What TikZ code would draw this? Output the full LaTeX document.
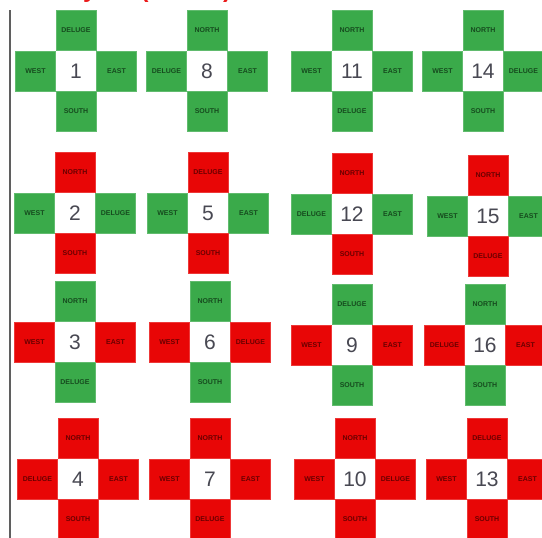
\documentclass[tikz,border=0pt]{standalone}
\usepackage{fontspec}
\setmainfont{Liberation Sans}
\definecolor{gfill}{RGB}{58,170,74}
\definecolor{gtext}{RGB}{22,75,30}
\definecolor{rfill}{RGB}{232,6,6}
\definecolor{rtext}{RGB}{105,0,0}
\definecolor{numcol}{RGB}{72,72,82}
\definecolor{linecol}{RGB}{95,95,95}
\definecolor{titlecol}{RGB}{235,25,25}
\begin{document}
\begin{tikzpicture}[x=1pt,y=-1pt,
  arm/.style={fill=#1fill, draw=#1fill!80!white, line width=0.6pt, text=#1text,
    minimum size=40pt, inner sep=0pt, font=\bfseries\fontsize{7}{7}\selectfont},
  numbox/.style={fill=white, minimum size=40pt, inner sep=0pt, text=numcol,
    font=\fontsize{21}{21}\selectfont},
  rule/.style={draw=linecol, line width=1.4pt},
  title/.style={anchor=base west, inner sep=0pt, text=titlecol,
    font=\bfseries\fontsize{24}{24}\selectfont}]
\path[use as bounding box] (0,0) rectangle (542,538);
\clip (0,0) rectangle (542,538);
\fill[white] (0,0) rectangle (542,538);
\node[title] (ttl) at (55,-2.5) {Layout (ROOM)};
\coordinate (ltop) at (10,10);
\coordinate (lbot) at (10,540);
\draw[rule] (ltop) -- (lbot);
\foreach \cx/\cy/\cn/\tA/\tB/\lA/\lB/\rA/\rB/\bA/\bB in {
  76/71/1/g/DELUGE/g/WEST/g/EAST/g/SOUTH,
  207/71/8/g/NORTH/g/DELUGE/g/EAST/g/SOUTH,
  352/71/11/g/NORTH/g/WEST/g/EAST/g/DELUGE,
  483/71/14/g/NORTH/g/WEST/g/DELUGE/g/SOUTH,
  75/213/2/r/NORTH/g/WEST/g/DELUGE/r/SOUTH,
  208/213/5/r/DELUGE/g/WEST/g/EAST/r/SOUTH,
  352/214/12/r/NORTH/g/DELUGE/g/EAST/r/SOUTH,
  488/216/15/r/NORTH/g/WEST/g/EAST/r/DELUGE,
  75/342/3/g/NORTH/r/WEST/r/EAST/g/DELUGE,
  210/342/6/g/NORTH/r/WEST/r/DELUGE/g/SOUTH,
  352/345/9/g/DELUGE/r/WEST/r/EAST/g/SOUTH,
  485/345/16/g/NORTH/r/DELUGE/r/EAST/g/SOUTH,
  78/479/4/r/NORTH/r/DELUGE/r/EAST/r/SOUTH,
  210/479/7/r/NORTH/r/WEST/r/EAST/r/DELUGE,
  355/479/10/r/NORTH/r/WEST/r/DELUGE/r/SOUTH,
  487/479/13/r/DELUGE/r/WEST/r/EAST/r/SOUTH}
{
  \node[numbox] (c\cn) at (\cx,\cy) {\cn};
  \node[arm=\tA, anchor=south] (c\cn n) at (c\cn.north) {\tB};
  \node[arm=\lA, anchor=east] (c\cn w) at (c\cn.west) {\lB};
  \node[arm=\rA, anchor=west] (c\cn e) at (c\cn.east) {\rB};
  \node[arm=\bA, anchor=north] (c\cn s) at (c\cn.south) {\bB};
}
\end{tikzpicture}
\end{document}
